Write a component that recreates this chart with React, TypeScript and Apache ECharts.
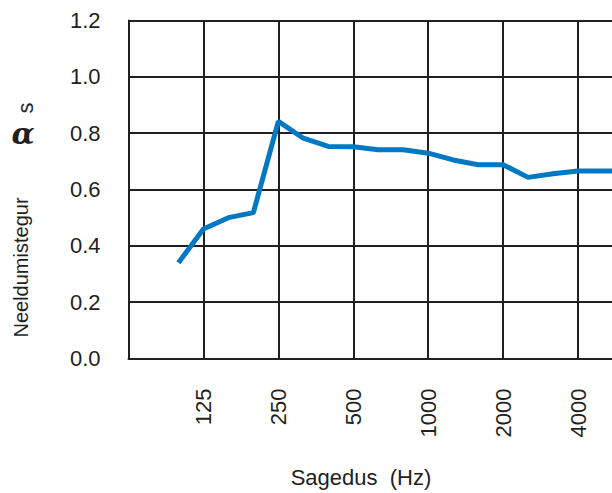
import React, { useEffect, useRef } from "react";
import * as echarts from "echarts";

// Third-octave band centre frequencies (Hz) and the measured absorption coefficient
const frequencies = [100, 125, 160, 200, 250, 315, 400, 500, 630, 800, 1000, 1250, 1600, 2000, 2500, 3150, 4000, 5000, 6300];
const absorption = [0.34, 0.46, 0.5, 0.518, 0.842, 0.782, 0.753, 0.752, 0.741, 0.741, 0.729, 0.705, 0.688, 0.688, 0.643, 0.656, 0.666, 0.666, 0.666];

// Octave tick labels (positions are band indices on the axis)
const tickBandIndex = [1, 4, 7, 10, 13, 16];
const tickLabels = ["125", "250", "500", "1000", "2000", "4000"];

const yTicks = [0, 0.2, 0.4, 0.6, 0.8, 1.0, 1.2];

const INK = "#231f20";
const FONT = "'Liberation Sans', Arial, Helvetica, sans-serif";

export default function App() {
  const ref = useRef<HTMLDivElement>(null);
  useEffect(() => {
    document.body.style.margin = "0";
    document.body.style.overflow = "hidden";
    const chart = echarts.init(ref.current!, null, { renderer: "svg" });
    const data = frequencies.map((f, i) => [i, absorption[i]]);
    chart.setOption({
      animation: false,
      grid: { left: 128.5, right: 0, top: 20.5, bottom: 134.5, containLabel: false },
      xAxis: {
        type: "value",
        min: -2,
        max: 19,
        interval: 3,
        axisLine: { show: true, onZero: false, lineStyle: { color: INK, width: 2 } },
        axisTick: { show: false },
        splitLine: { show: true, lineStyle: { color: INK, width: 2 } },
        axisLabel: {
          rotate: 90,
          margin: 30,
          fontSize: 22,
          fontFamily: FONT,
          color: INK,
          rich: {
            t: { width: 60, align: "right", fontSize: 22, fontFamily: FONT, color: INK },
          },
          formatter: (v: number) => {
            const k = tickBandIndex.indexOf(Math.round(v));
            return k >= 0 ? `{t|${tickLabels[k]}}` : "";
          },
        },
      },
      yAxis: {
        type: "value",
        min: yTicks[0],
        max: yTicks[yTicks.length - 1],
        interval: 0.2,
        axisLine: { show: true, onZero: false, lineStyle: { color: INK, width: 2 } },
        axisTick: { show: false },
        splitLine: { show: true, lineStyle: { color: INK, width: 2 } },
        axisLabel: {
          margin: 28,
          fontSize: 22,
          fontFamily: FONT,
          color: INK,
          formatter: (v: number) => v.toFixed(1),
        },
      },
      series: [
        {
          type: "line",
          data,
          symbol: "none",
          lineStyle: { color: "#0079c2", width: 5 },
          clip: true,
        },
      ],
      graphic: [
        {
          type: "text",
          x: 361,
          y: 477,
          style: {
            text: "Sagedus  (Hz)",
            font: `22px ${FONT}`,
            fill: INK,
            textAlign: "center",
            textVerticalAlign: "middle",
          },
        },
        {
          type: "text",
          x: 21,
          y: 267.5,
          rotation: Math.PI / 2,
          style: {
            text: "Neeldumistegur",
            font: `20px ${FONT}`,
            fill: INK,
            textAlign: "center",
            textVerticalAlign: "middle",
          },
        },
        {
          type: "text",
          x: 23,
          y: 133,
          style: {
            text: "α",
            font: `italic bold 30px 'DejaVu Serif', serif`,
            fill: INK,
            textAlign: "center",
            textVerticalAlign: "middle",
          },
        },
        {
          type: "text",
          x: 25,
          y: 108,
          rotation: Math.PI / 2,
          style: {
            text: "s",
            font: `22px ${FONT}`,
            fill: INK,
            textAlign: "center",
            textVerticalAlign: "middle",
          },
        },
      ],
    });
    return () => chart.dispose();
  }, []);
  return <div ref={ref} style={{ width: 653, height: 493 }} />;
}
